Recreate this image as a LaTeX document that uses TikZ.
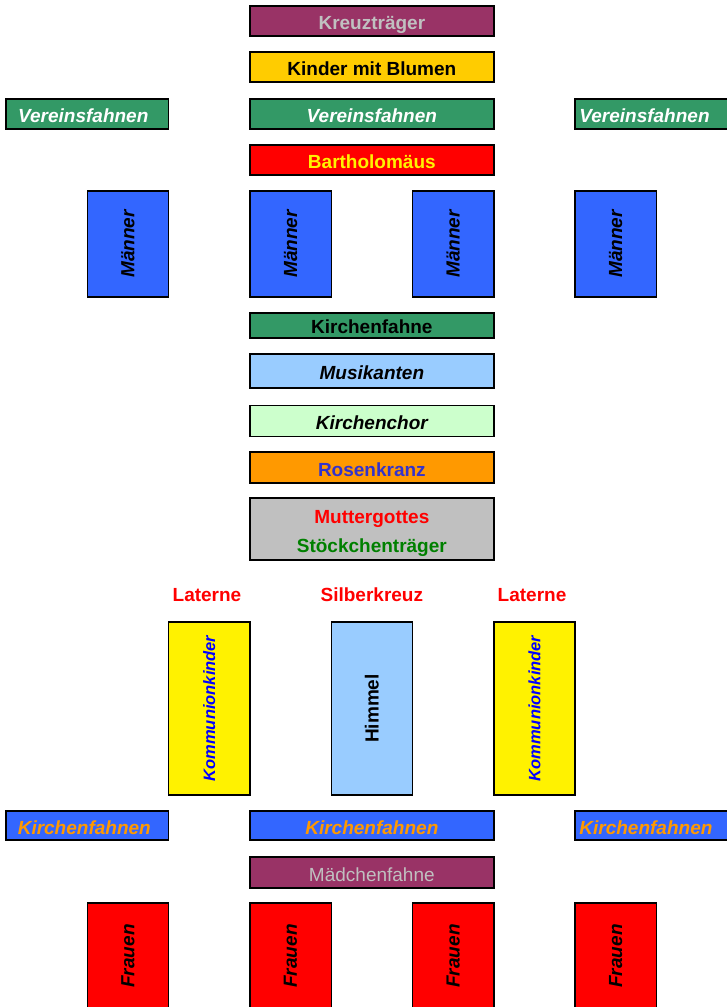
\documentclass[tikz,border=0pt]{standalone}
\usepackage{fontspec}
\setmainfont{Liberation Sans}
\usetikzlibrary{positioning}

\definecolor{purp}{HTML}{993366}
\definecolor{gold}{HTML}{FFCC00}
\definecolor{flaggreen}{HTML}{339966}
\definecolor{menblue}{HTML}{3366FF}
\definecolor{skyblue}{HTML}{99CCFF}
\definecolor{palegreen}{HTML}{CCFFCC}
\definecolor{orng}{HTML}{FF9900}
\definecolor{rosetext}{HTML}{3333CC}
\definecolor{silver}{HTML}{C0C0C0}
\definecolor{darkgreen}{HTML}{008000}

\newcommand{\bigfont}{\fontsize{19}{22}\selectfont}

\begin{document}
\begin{tikzpicture}[
        x=1pt, y=-1pt,
        every node/.style={inner sep=0pt, font=\bigfont\bfseries},
        box/.style={draw=black, line width=1.4pt},
        wide/.style={box, minimum width=243.9pt, minimum height=30pt, text height=17pt, text depth=0pt},
        side/.style={box, minimum width=162.6pt, minimum height=30pt, text height=17pt, text depth=0pt},
        tall/.style={box, minimum width=81.3pt, minimum height=106pt},
        column/.style={box, minimum width=81.3pt, minimum height=173pt},
        slanted/.style={font=\bigfont\bfseries\itshape}
    ]
        \useasboundingbox (0,0) rectangle (727,1007);

        % Spitze des Zuges
        \node[wide, fill=purp, text=silver] (kreuz) at (371.85,21) {Kreuzträger};
        \node[wide, fill=gold] (kinder) at (371.85,67) {Kinder mit Blumen};
        \node[side, fill=flaggreen, text=white, slanted] (vereinL) at (87.3,114) {\hspace*{-8pt}Vereinsfahnen};
        \node[wide, fill=flaggreen, text=white, slanted] (vereinM) at (371.85,114) {Vereinsfahnen};
        \node[side, fill=flaggreen, text=white, slanted, text width=154pt, align=left] (vereinR) at (656.4,114) {Vereinsfahnen};
        \node[wide, fill=red, text=yellow] (bartho) at (371.85,160) {Bartholomäus};

        % Männer
        \node[tall, fill=menblue] (maenner1) at (127.95,244) {\rotatebox{90}{\itshape Männer}};
        \node[tall, fill=menblue] (maenner2) at (290.55,244) {\rotatebox{90}{\itshape Männer}};
        \node[tall, fill=menblue] (maenner3) at (453.15,244) {\rotatebox{90}{\itshape Männer}};
        \node[tall, fill=menblue] (maenner4) at (615.75,244) {\rotatebox{90}{\itshape Männer}};

        % Mitte des Zuges
        \node[wide, fill=flaggreen, minimum height=25pt, text height=15pt] (kfahne) at (371.85,325.5) {Kirchenfahne};
        \node[wide, fill=skyblue, minimum height=34pt, slanted] (musik) at (371.85,371) {Musikanten};
        \node[wide, fill=palegreen, minimum height=31pt, slanted] (chor) at (371.85,421) {Kirchenchor};
        \node[wide, fill=orng, text=rosetext, minimum height=31pt] (rosen) at (371.85,467.5) {Rosenkranz};
        \node[wide, fill=silver, minimum height=62pt] (mutter) at (371.85,529) {};
        \node[text=red] (muttergottes) at (371.85,519) {Muttergottes};
        \node[text=darkgreen] (stoeckchen) at (371.85,548) {Stöckchenträger};

        \node[text=red] (laterneL) at (207,595) {Laterne};
        \node[text=red] (silber) at (371.85,595) {Silberkreuz};
        \node[text=red] (laterneR) at (532,595) {Laterne};

        \node[column, fill=yellow, text=blue, font=\fontsize{16.5}{20}\selectfont\bfseries] (kommL) at (209.25,708.5) {\rotatebox{90}{\itshape Kommunionkinder}};
        \node[column, fill=skyblue] (himmel) at (371.85,708.5) {\rotatebox{90}{Himmel}};
        \node[column, fill=yellow, text=blue, font=\fontsize{16.5}{20}\selectfont\bfseries] (kommR) at (534.45,708.5) {\rotatebox{90}{\itshape Kommunionkinder}};

        % Ende des Zuges
        \node[side, fill=menblue, text=orng, minimum height=29pt, slanted] (kfahnenL) at (87.3,825.5) {\hspace*{-6pt}Kirchenfahnen};
        \node[wide, fill=menblue, text=orng, minimum height=29pt, slanted] (kfahnenM) at (371.85,825.5) {Kirchenfahnen};
        \node[side, fill=menblue, text=orng, minimum height=29pt, text width=154pt, align=left, slanted] (kfahnenR) at (656.4,825.5) {Kirchenfahnen};
        \node[wide, fill=purp, text=silver, minimum height=31pt, font=\bigfont] (maedchen) at (371.85,872.5) {Mädchenfahne};

        \node[tall, fill=red] (frauen1) at (127.95,956) {\rotatebox{90}{\itshape Frauen}};
        \node[tall, fill=red] (frauen2) at (290.55,956) {\rotatebox{90}{\itshape Frauen}};
        \node[tall, fill=red] (frauen3) at (453.15,956) {\rotatebox{90}{\itshape Frauen}};
        \node[tall, fill=red] (frauen4) at (615.75,956) {\rotatebox{90}{\itshape Frauen}};
    \end{tikzpicture}
\end{document}
